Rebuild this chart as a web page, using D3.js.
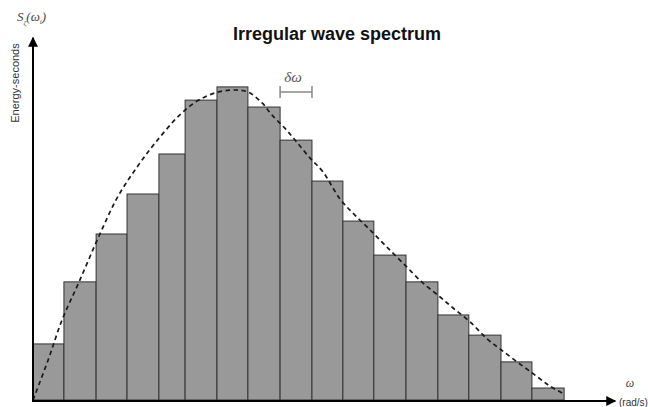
<!DOCTYPE html>
<html>
<head>
<meta charset="utf-8">
<script src="https://cdn.jsdelivr.net/npm/d3@7"></script>
<style>
	body { margin: 0; background: #fff; }
	svg { display: block; }
</style>
</head>
<body>
<svg id="canvas" width="648" height="407"></svg>
<script>
// bar edges along omega (arbitrary units, one unit ~ one delta-omega)
var binEdges = [0, 0.98, 2.0, 2.98, 3.99, 4.82, 5.83, 6.81, 7.83, 8.84, 9.82, 10.8, 11.82, 12.83, 13.81, 14.83, 15.81, 16.83];
// spectral density of each bin
var binValues = [17.8, 37.5, 52.7, 65.4, 78.1, 95.2, 99.4, 93.0, 82.5, 69.5, 56.8, 46.0, 37.5, 27.0, 20.6, 12.1, 3.8];

// continuous spectrum (dashed curve)
var curveOmega = [0, 0.48, 0.92, 1.46, 2.12, 2.69, 3.30, 3.87, 4.66, 5.20, 5.77, 6.31, 6.81, 7.26, 7.57, 7.98, 8.33, 8.78, 9.19, 9.73, 10.20, 10.68, 11.15, 11.72, 12.36, 12.90, 13.31, 13.85, 14.39, 14.80, 15.34, 15.91, 16.38, 16.83];
var curveS = [0, 12.7, 25.4, 37.5, 52.7, 64.6, 74.0, 81.6, 90.6, 94.9, 97.5, 98.4, 97.8, 94.3, 90.5, 86.3, 82.2, 76.8, 72.4, 63.8, 58.7, 54.0, 49.2, 43.5, 37.1, 32.7, 29.2, 24.8, 19.4, 16.2, 12.1, 7.9, 4.4, 1.9];

// the delta-omega marker spans this bin
var deltaBin = 8;

const svg = d3.select("#canvas");

const x = d3.scaleLinear().domain([0, 19]).range([33, 632.6]);
const y = d3.scaleLinear().domain([0, 100]).range([400, 85]);

// arrowhead
svg.append("defs").append("marker")
	.attr("id", "arrow")
	.attr("viewBox", "0 0 10 10")
	.attr("refX", 9)
	.attr("refY", 5)
	.attr("markerUnits", "userSpaceOnUse")
	.attr("markerWidth", 12)
	.attr("markerHeight", 10)
	.attr("orient", "auto")
	.append("path")
	.attr("d", "M0,0 L10,5 L0,10 Z")
	.attr("fill", "#000");

// bars
const bins = binValues.map((v, i) => ({ x0: binEdges[i], x1: binEdges[i + 1], v: v }));
svg.append("g")
	.selectAll()
	.data(bins)
	.join("rect")
	.attr("x", d => x(d.x0))
	.attr("y", d => y(d.v))
	.attr("width", d => x(d.x1) - x(d.x0))
	.attr("height", d => y(0) - y(d.v))
	.attr("fill", "#999")
	.attr("stroke", "#333")
	.attr("stroke-width", 1);

// dashed spectrum curve
const line = d3.line()
	.x(d => x(d[0]))
	.y(d => y(d[1]))
	.curve(d3.curveCatmullRom);
svg.append("path")
	.datum(curveOmega.map((w, i) => [w, curveS[i]]))
	.attr("d", line)
	.attr("fill", "none")
	.attr("stroke", "#1a1a1a")
	.attr("stroke-width", 1.7)
	.attr("stroke-dasharray", "4.5,3.5");

// axes
svg.append("line")
	.attr("x1", x(0)).attr("y1", y(0) + 1)
	.attr("x2", x(18.45)).attr("y2", y(0) + 1)
	.attr("stroke", "#000")
	.attr("stroke-width", 2)
	.attr("marker-end", "url(#arrow)");
svg.append("line")
	.attr("x1", x(0)).attr("y1", y(0) + 2)
	.attr("x2", x(0)).attr("y2", y(115))
	.attr("stroke", "#000")
	.attr("stroke-width", 2)
	.attr("marker-end", "url(#arrow)");

// delta-omega marker
const bx0 = x(binEdges[deltaBin]);
const bx1 = x(binEdges[deltaBin + 1]);
const by = 92;
const bracket = svg.append("g")
	.attr("stroke", "#888")
	.attr("stroke-width", 1.5);
bracket.append("line").attr("x1", bx0).attr("x2", bx1).attr("y1", by).attr("y2", by);
bracket.append("line").attr("x1", bx0).attr("x2", bx0).attr("y1", by - 6).attr("y2", by + 6);
bracket.append("line").attr("x1", bx1).attr("x2", bx1).attr("y1", by - 6).attr("y2", by + 6);
svg.append("text")
	.attr("x", (bx0 + bx1) / 2 - 3)
	.attr("y", 82)
	.attr("text-anchor", "middle")
	.attr("font-family", "'Liberation Serif', 'DejaVu Serif', serif")
	.attr("font-style", "italic")
	.attr("font-size", 15)
	.attr("fill", "#555")
	.text("δω");

// title
svg.append("text")
	.attr("x", 337)
	.attr("y", 40)
	.attr("text-anchor", "middle")
	.attr("font-family", "'Liberation Sans', Arial, sans-serif")
	.attr("font-weight", "bold")
	.attr("font-size", 18)
	.attr("fill", "#111")
	.text("Irregular wave spectrum");

// y label
const ylab = svg.append("text")
	.attr("x", 17)
	.attr("y", 21)
	.attr("font-family", "'Liberation Serif', 'DejaVu Serif', serif")
	.attr("font-style", "italic")
	.attr("font-size", 13)
	.attr("fill", "#444");
ylab.append("tspan").text("S");
ylab.append("tspan").attr("dy", 4).attr("font-size", 7).text("ζ");
ylab.append("tspan").attr("dy", -4).text("(ω");
ylab.append("tspan").attr("dy", 3).attr("font-size", 7).text("i");
ylab.append("tspan").attr("dy", -3).text(")");

svg.append("text")
	.attr("transform", "translate(19,83) rotate(-90)")
	.attr("text-anchor", "middle")
	.attr("font-family", "'Liberation Sans', Arial, sans-serif")
	.attr("font-size", 11)
	.attr("fill", "#333")
	.text("Energy-seconds");

// x label
svg.append("text")
	.attr("x", 630)
	.attr("y", 387)
	.attr("text-anchor", "middle")
	.attr("font-family", "'Liberation Serif', 'DejaVu Serif', serif")
	.attr("font-style", "italic")
	.attr("font-size", 12)
	.attr("fill", "#444")
	.text("ω");
svg.append("text")
	.attr("x", 619)
	.attr("y", 406)
	.attr("font-family", "'Liberation Sans', Arial, sans-serif")
	.attr("font-size", 10)
	.attr("fill", "#333")
	.text("(rad/s)");
</script>
</body>
</html>
